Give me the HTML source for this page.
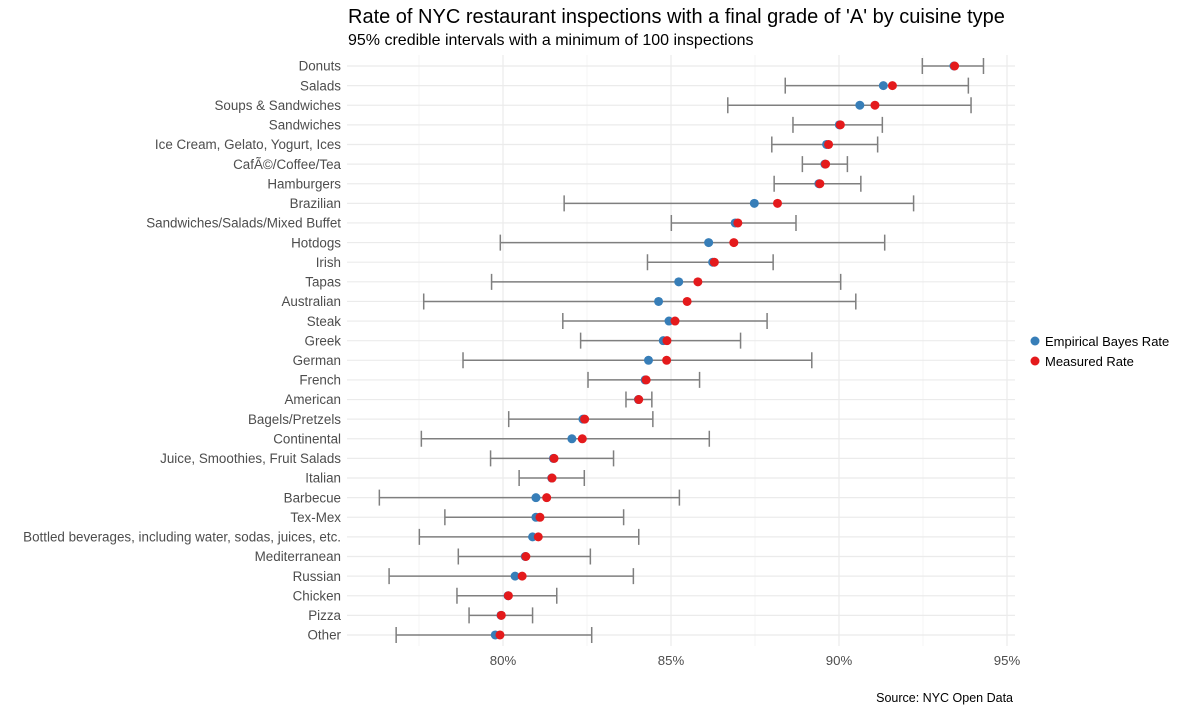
<!DOCTYPE html>
<html><head><meta charset="utf-8"><style>
body{margin:0;background:#fff;width:1200px;height:712px;overflow:hidden;font-family:"Liberation Sans",sans-serif}
</style></head><body>
<svg id="chart" width="1200" height="712" xmlns="http://www.w3.org/2000/svg" font-family="Liberation Sans, sans-serif">
<text x="348" y="23" font-size="20" fill="#000">Rate of NYC restaurant inspections with a final grade of 'A' by cuisine type</text>
<text x="348" y="45" font-size="16" fill="#000">95% credible intervals with a minimum of 100 inspections</text>
<g id="grid"></g>
<g id="marks"></g>
<g id="ylabels"></g>
<g id="xlabels"></g>
<g>
<circle cx="1035" cy="341" r="4.5" fill="#377eb8"/>
<text x="1045" y="346" font-size="13" fill="#000">Empirical Bayes Rate</text>
<circle cx="1035" cy="361" r="4.5" fill="#e41a1c"/>
<text x="1045" y="366" font-size="13" fill="#000">Measured Rate</text>
</g>
<text x="1013" y="702" font-size="12.5" text-anchor="end" fill="#000">Source: NYC Open Data</text>
</svg>
<script>
const categories=["Donuts","Salads","Soups & Sandwiches","Sandwiches","Ice Cream, Gelato, Yogurt, Ices","CafÃ©/Coffee/Tea","Hamburgers","Brazilian","Sandwiches/Salads/Mixed Buffet","Hotdogs","Irish","Tapas","Australian","Steak","Greek","German","French","American","Bagels/Pretzels","Continental","Juice, Smoothies, Fruit Salads","Italian","Barbecue","Tex-Mex","Bottled beverages, including water, sodas, juices, etc.","Mediterranean","Russian","Chicken","Pizza","Other"];
const lower=[92.48,88.40,86.69,88.63,88.0,88.91,88.07,81.82,85.01,79.92,84.30,79.66,77.64,81.78,82.31,78.81,82.53,83.66,80.17,77.57,79.63,80.48,76.32,78.27,77.51,78.67,76.61,78.63,78.99,76.82];
const upper=[94.30,93.85,93.93,91.29,91.15,90.25,90.65,92.22,88.72,91.36,88.04,90.05,90.50,87.86,87.07,89.19,85.85,84.43,84.46,86.14,83.29,82.42,85.25,83.59,84.04,82.60,83.88,81.60,80.88,82.64];
const bayes=[93.42,91.32,90.62,90.01,89.63,89.58,89.40,87.48,86.91,86.12,86.24,85.23,84.63,84.94,84.77,84.33,84.23,84.03,82.38,82.05,81.50,81.45,80.98,80.98,80.88,80.66,80.36,80.15,79.94,79.77];
const measured=[93.44,91.59,91.07,90.04,89.69,89.60,89.43,88.17,86.99,86.87,86.29,85.80,85.48,85.12,84.88,84.87,84.26,84.04,82.43,82.36,81.52,81.46,81.30,81.10,81.05,80.68,80.57,80.16,79.95,79.91];
const xTicks=[80,85,90,95];
const xTickLabels=["80%","85%","90%","95%"];
const minorTicks=[77.5,82.5,87.5,92.5];
const NS="http://www.w3.org/2000/svg";
const X=v=>503+(v-80)*33.6;
const Y=i=>66+i*19.62;
const L=347,R=1015,T=55,B=646;
function mk(tag,attrs,parent){const e=document.createElementNS(NS,tag);for(const k in attrs)e.setAttribute(k,attrs[k]);parent.appendChild(e);return e;}
const grid=document.getElementById('grid'),marks=document.getElementById('marks'),yl=document.getElementById('ylabels'),xl=document.getElementById('xlabels');
minorTicks.forEach(v=>{const l=mk('line',{x1:X(v),x2:X(v),y1:T,y2:B,stroke:'#f2f2f2','stroke-width':0.8},grid);

});
xTicks.forEach((v,i)=>{const l=mk('line',{x1:X(v),x2:X(v),y1:T,y2:B,stroke:'#ebebeb','stroke-width':1.2},grid);


const t=mk('text',{x:X(v),y:665,'font-size':13.2,fill:'#4d4d4d','text-anchor':'middle'},xl);t.textContent=xTickLabels[i];

});
categories.forEach((c,i)=>{const y=Y(i);
const g=mk('line',{x1:L,x2:R,y1:y,y2:y,stroke:'#ebebeb','stroke-width':1.2},grid);


const t=mk('text',{x:341,y:y+4.7,'font-size':13.4,fill:'#4d4d4d','text-anchor':'end'},yl);t.textContent=c;


const eb=mk('path',{d:`M${X(lower[i])},${y}H${X(upper[i])}M${X(lower[i])},${y-8}V${y+8}M${X(upper[i])},${y-8}V${y+8}`,stroke:'#7f7f7f','stroke-width':1.5,fill:'none'},marks);


const b=mk('circle',{cx:X(bayes[i]),cy:y,r:4.5,fill:'#377eb8'},marks);


const m=mk('circle',{cx:X(measured[i]),cy:y,r:4.5,fill:'#e41a1c'},marks);

});
</script>
</body></html>
